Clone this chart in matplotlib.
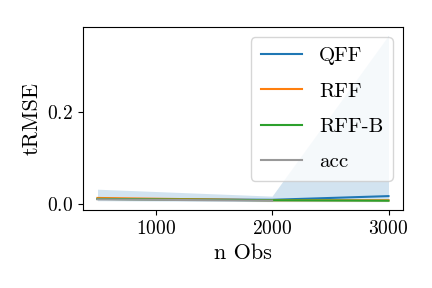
import matplotlib
matplotlib.use('Agg')
import matplotlib.pyplot as plt
import numpy as np

# 데이터
n_obs = [500, 2000, 3000]
qff = [0.012, 0.010, 0.018]
qff_lo = [0.008, 0.006, 0.006]
qff_hi = [0.033, 0.018, 0.367]
rff = [0.014, 0.009, 0.009]
rff_b = [0.012, 0.009, 0.008]
acc_obs = [500, 2000]
acc = [0.011, 0.008]

plt.rcParams['font.family'] = 'serif'
plt.rcParams['font.serif'] = ['cmr10']
plt.rcParams['mathtext.fontset'] = 'cm'
plt.rcParams['axes.formatter.use_mathtext'] = True

fig = plt.figure(figsize=(4.32, 2.88), dpi=100)
ax = fig.add_axes([0.192, 0.271, 0.741, 0.635])

ax.plot(n_obs, qff, color='tab:blue', label='QFF')
ax.fill_between(n_obs, qff_lo, qff_hi, color='tab:blue', alpha=0.2, linewidth=0)
ax.plot(n_obs, rff, color='tab:orange', label='RFF')
ax.plot(n_obs, rff_b, color='tab:green', label='RFF-B')
ax.plot(acc_obs, acc, color='#999999', label='acc')

ax.set_xlabel('n Obs', fontsize=16)
ax.set_ylabel('tRMSE', fontsize=16)
ax.set_xticks([1000, 2000, 3000])
ax.set_yticks([0.0, 0.2])
ax.tick_params(labelsize=14)
ax.legend(loc='upper right', fontsize=15, labelspacing=0.8, borderpad=0.45)

plt.savefig('out.png', dpi=100)
